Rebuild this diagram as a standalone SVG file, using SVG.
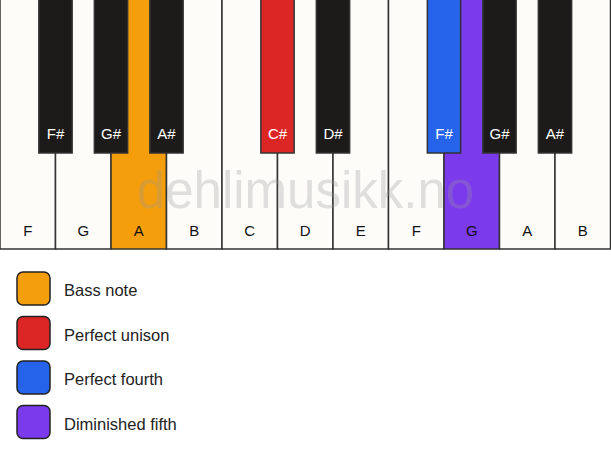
<svg xmlns="http://www.w3.org/2000/svg" width="611" height="461" viewBox="0 0 611 461">
<style>
.w{fill:#fdfcf9;stroke:#333;stroke-width:1.5}
.b{fill:#1c1b19;stroke:#333;stroke-width:1.5}
.lbl{font-family:"Liberation Sans",Arial,sans-serif;font-size:15px;text-anchor:middle;fill:#111}
.blbl{font-family:"Liberation Sans",Arial,sans-serif;font-size:15px;text-anchor:middle;fill:#fff}
.leg{font-family:"Liberation Sans",Arial,sans-serif;font-size:16.5px;fill:#222}
.sw{stroke:#222;stroke-width:1.5}
</style>
<rect x="0" y="0" width="611" height="461" fill="#ffffff"/>
<g id="white-keys">
<g id="wk-F1"><rect class="w" x="0" y="-2" width="55.5" height="251"/><text class="lbl" x="27.75" y="236">F</text></g>
<g id="wk-G1"><rect class="w" x="55.5" y="-2" width="55.5" height="251"/><text class="lbl" x="83.25" y="236">G</text></g>
<g id="wk-A1"><rect class="w" x="111" y="-2" width="55.5" height="251" style="fill:#f59e0b"/><text class="lbl" x="138.75" y="236">A</text></g>
<g id="wk-B1"><rect class="w" x="166.5" y="-2" width="55.5" height="251"/><text class="lbl" x="194.25" y="236">B</text></g>
<g id="wk-C"><rect class="w" x="222" y="-2" width="55.5" height="251"/><text class="lbl" x="249.75" y="236">C</text></g>
<g id="wk-D"><rect class="w" x="277.5" y="-2" width="55.5" height="251"/><text class="lbl" x="305.25" y="236">D</text></g>
<g id="wk-E"><rect class="w" x="333" y="-2" width="55.5" height="251"/><text class="lbl" x="360.75" y="236">E</text></g>
<g id="wk-F2"><rect class="w" x="388.5" y="-2" width="55.5" height="251"/><text class="lbl" x="416.25" y="236">F</text></g>
<g id="wk-G2"><rect class="w" x="444" y="-2" width="55.5" height="251" style="fill:#7c3aed"/><text class="lbl" x="471.75" y="236">G</text></g>
<g id="wk-A2"><rect class="w" x="499.5" y="-2" width="55.5" height="251"/><text class="lbl" x="527.25" y="236">A</text></g>
<g id="wk-B2"><rect class="w" x="555" y="-2" width="55.5" height="251"/><text class="lbl" x="582.75" y="236">B</text></g>
</g>
<g id="black-keys">
<g id="bk-Fs1"><rect class="b" x="38.85" y="-2" width="33.3" height="155"/><text class="blbl" x="55.5" y="139">F#</text></g>
<g id="bk-Gs1"><rect class="b" x="94.35" y="-2" width="33.3" height="155"/><text class="blbl" x="111" y="139">G#</text></g>
<g id="bk-As1"><rect class="b" x="149.85" y="-2" width="33.3" height="155"/><text class="blbl" x="166.5" y="139">A#</text></g>
<g id="bk-Cs"><rect class="b" x="260.85" y="-2" width="33.3" height="155" style="fill:#dc2626"/><text class="blbl" x="277.5" y="139">C#</text></g>
<g id="bk-Ds"><rect class="b" x="316.35" y="-2" width="33.3" height="155"/><text class="blbl" x="333" y="139">D#</text></g>
<g id="bk-Fs2"><rect class="b" x="427.35" y="-2" width="33.3" height="155" style="fill:#2563eb"/><text class="blbl" x="444" y="139">F#</text></g>
<g id="bk-Gs2"><rect class="b" x="482.85" y="-2" width="33.3" height="155"/><text class="blbl" x="499.5" y="139">G#</text></g>
<g id="bk-As2"><rect class="b" x="538.35" y="-2" width="33.3" height="155"/><text class="blbl" x="555" y="139">A#</text></g>
</g>
<text x="305.5" y="208" font-family="Liberation Sans,Arial,sans-serif" font-size="51" text-anchor="middle" fill="#999" fill-opacity="0.3">dehlimusikk.no</text>
<g id="legend">
<g id="leg-bass"><rect class="sw" x="17" y="272" width="33" height="33" rx="6" fill="#f59e0b"/><text class="leg" x="64" y="296">Bass note</text></g>
<g id="leg-unison"><rect class="sw" x="17" y="316.5" width="33" height="33" rx="6" fill="#dc2626"/><text class="leg" x="64" y="340.5">Perfect unison</text></g>
<g id="leg-fourth"><rect class="sw" x="17" y="361" width="33" height="33" rx="6" fill="#2563eb"/><text class="leg" x="64" y="385">Perfect fourth</text></g>
<g id="leg-dim5"><rect class="sw" x="17" y="405.5" width="33" height="33" rx="6" fill="#7c3aed"/><text class="leg" x="64" y="429.5">Diminished fifth</text></g>
</g>
</svg>
